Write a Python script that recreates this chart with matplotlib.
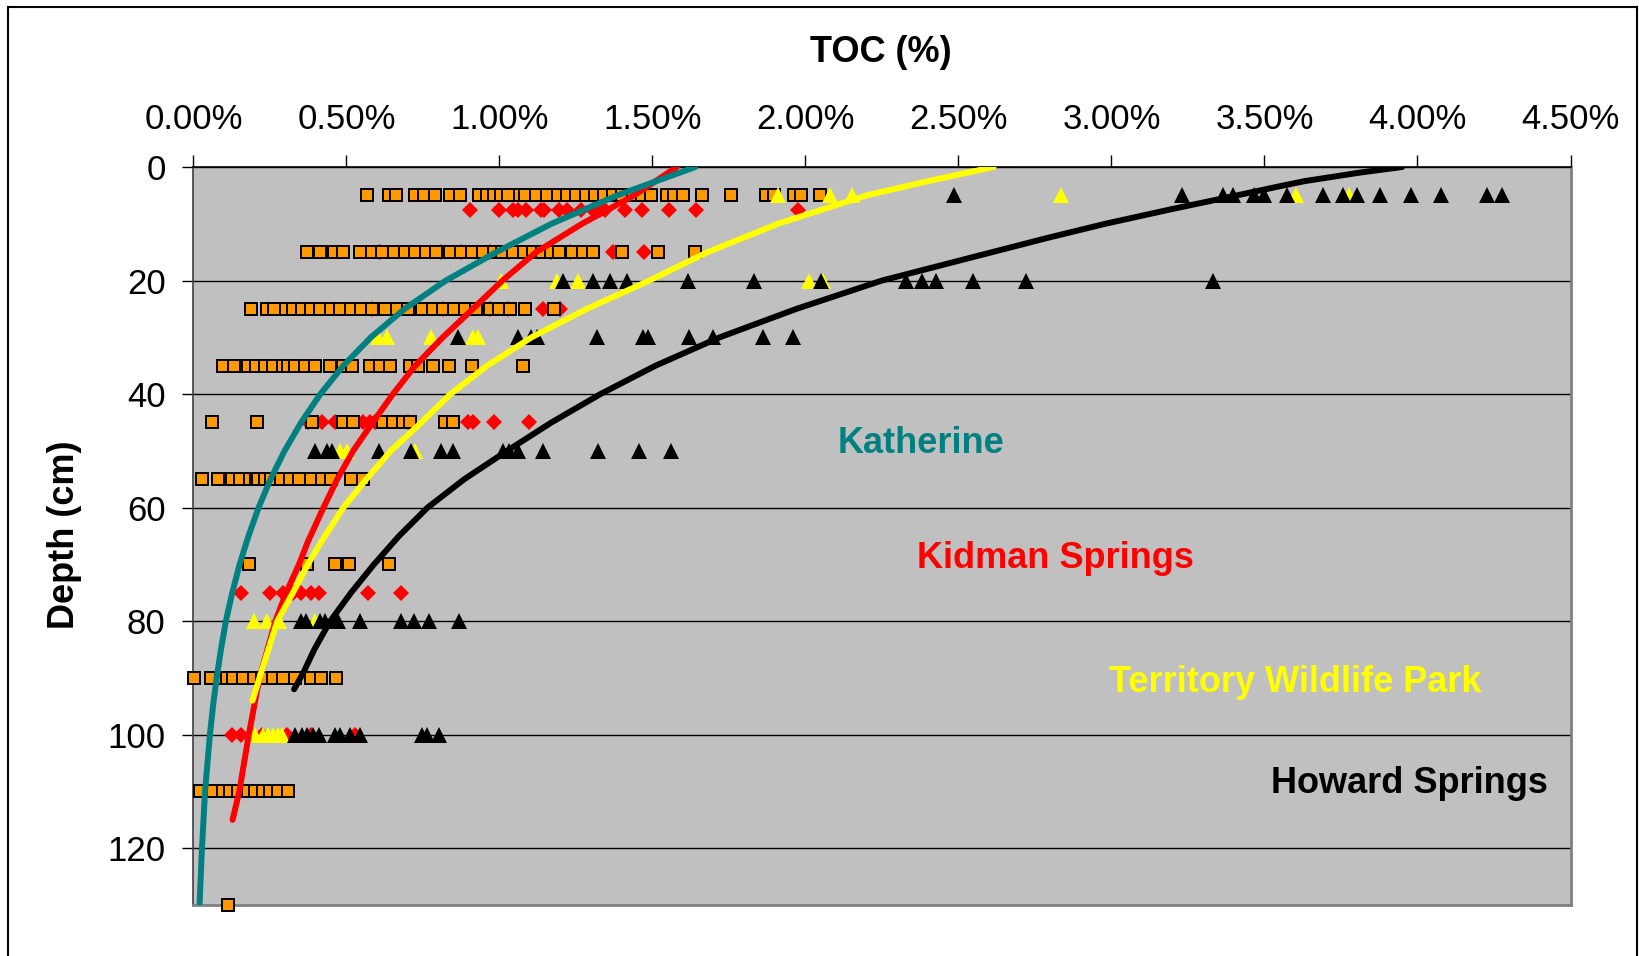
import matplotlib.pyplot as plt
from matplotlib.lines import Line2D
from matplotlib.ticker import FuncFormatter, MultipleLocator

plt.rcParams['font.family'] = ['Liberation Sans', 'DejaVu Sans']

# Katherine - orange squares, TOC (%) at each sampling depth (cm)
kath_depths = [5, 15, 25, 35, 45, 55, 70, 90, 110, 130]
kath_toc = [
    [0.568, 0.640, 0.663, 0.724, 0.753, 0.789, 0.840, 0.872, 0.934, 0.960, 0.981, 1.004, 1.027,
     1.068, 1.083, 1.121, 1.156, 1.191, 1.220, 1.249, 1.284, 1.313, 1.342, 1.372, 1.401, 1.436,
     1.465, 1.494, 1.547, 1.570, 1.599, 1.663, 1.757, 1.871, 1.898, 1.961, 1.984, 2.047],
    [0.370, 0.414, 0.461, 0.490, 0.543, 0.584, 0.616, 0.654, 0.691, 0.724, 0.759, 0.794, 0.840,
     0.875, 0.910, 0.945, 0.981, 1.010, 1.045, 1.080, 1.109, 1.138, 1.167, 1.196, 1.237, 1.272,
     1.307, 1.401, 1.517, 1.640],
    [0.187, 0.240, 0.263, 0.304, 0.327, 0.356, 0.385, 0.414, 0.449, 0.479, 0.514, 0.549, 0.584,
     0.625, 0.665, 0.700, 0.747, 0.782, 0.817, 0.852, 0.887, 0.922, 0.969, 0.998, 1.034, 1.083, 1.177],
    [0.096, 0.134, 0.179, 0.204, 0.233, 0.259, 0.292, 0.309, 0.333, 0.364, 0.397, 0.446, 0.490,
     0.517, 0.577, 0.610, 0.643, 0.708, 0.735, 0.784, 0.835, 0.912, 1.076],
    [0.062, 0.207, 0.387, 0.490, 0.521, 0.621, 0.653, 0.686, 0.708, 0.822, 0.849],
    [0.029, 0.082, 0.126, 0.152, 0.184, 0.204, 0.212, 0.233, 0.254, 0.286, 0.315, 0.344, 0.385,
     0.420, 0.449, 0.516, 0.554],
    [0.183, 0.370, 0.463, 0.508, 0.640],
    [0.002, 0.058, 0.091, 0.111, 0.128, 0.161, 0.198, 0.224, 0.259, 0.292, 0.333, 0.383, 0.418, 0.465],
    [0.022, 0.065, 0.096, 0.120, 0.147, 0.180, 0.201, 0.229, 0.250, 0.278, 0.310],
    [0.114],
]

# Kidman Springs - red diamonds
kid_depths = [7.5, 15, 25, 45, 75, 100]
kid_toc = [
    [0.905, 0.998, 1.045, 1.062, 1.088, 1.135, 1.146, 1.196, 1.220, 1.266, 1.307, 1.328, 1.345,
     1.410, 1.465, 1.555, 1.642, 1.975],
    [0.61, 0.81, 0.875, 0.97, 1.03, 1.17, 1.23, 1.372, 1.473],
    [0.584, 0.817, 0.969, 1.027, 1.144, 1.198],
    [0.374, 0.419, 0.463, 0.555, 0.577, 0.593, 0.700, 0.898, 0.915, 0.982, 1.098],
    [0.155, 0.251, 0.292, 0.327, 0.350, 0.383, 0.411, 0.570, 0.679],
    [0.125, 0.154, 0.223, 0.305, 0.384, 0.528],
]

# Territory Wildlife Park - yellow triangles
twp_depths = [5, 20, 30, 50, 80, 100]
twp_toc = [
    [1.910, 2.081, 2.151, 2.835, 3.604, 3.776],
    [1.004, 1.188, 1.258, 2.011, 2.059],
    [0.604, 0.634, 0.778, 0.915, 0.931],
    [0.479, 0.501, 0.724],
    [0.198, 0.239, 0.280, 0.397],
    [0.201, 0.229, 0.245, 0.261, 0.278, 0.288],
]

# Howard Springs - black triangles
how_depths = [5, 20, 30, 50, 80, 100]
how_toc = [
    [2.487, 3.229, 3.364, 3.398, 3.466, 3.498, 3.573, 3.692, 3.756, 3.801, 3.878, 3.980, 4.077,
     4.226, 4.276],
    [1.208, 1.307, 1.360, 1.418, 1.617, 1.832, 2.050, 2.330, 2.380, 2.427, 2.548, 2.722, 3.332],
    [0.866, 1.062, 1.102, 1.124, 1.320, 1.470, 1.487, 1.620, 1.699, 1.862, 1.958],
    [0.397, 0.435, 0.452, 0.607, 0.711, 0.808, 0.849, 1.013, 1.032, 1.062, 1.141, 1.321, 1.457, 1.561],
    [0.350, 0.368, 0.414, 0.430, 0.455, 0.473, 0.543, 0.679, 0.721, 0.770, 0.867],
    [0.332, 0.354, 0.370, 0.392, 0.412, 0.463, 0.479, 0.512, 0.545, 0.746, 0.762, 0.804],
]

# trend curves (depth cm, TOC %)
kath_fit_depth = [0, 5, 10, 15, 20, 25, 30, 35, 40, 45, 50, 55, 60, 65, 70, 75, 80, 85, 90, 95,
                  100, 105, 110, 115, 120, 125, 130]
kath_fit_toc = [1.64, 1.385, 1.17, 0.99, 0.825, 0.69, 0.58, 0.49, 0.415, 0.352, 0.298, 0.252, 0.213,
                0.180, 0.151, 0.127, 0.106, 0.090, 0.076, 0.064, 0.054, 0.046, 0.038, 0.033, 0.028,
                0.024, 0.020]

kid_fit_depth = [0, 5, 10, 15, 20, 25, 30, 35, 40, 45, 50, 55, 60, 66, 70, 75, 80, 90, 100, 110, 115]
kid_fit_toc = [1.58, 1.44, 1.27, 1.12, 1.01, 0.913, 0.815, 0.725, 0.652, 0.586, 0.522, 0.470, 0.425,
               0.374, 0.345, 0.303, 0.268, 0.216, 0.181, 0.150, 0.128]

twp_fit_depth = [0, 2.5, 5, 10, 15, 20, 25, 30, 35, 40, 45, 50, 55, 60, 66, 70, 75, 80, 90, 94]
twp_fit_toc = [2.615, 2.40, 2.20, 1.91, 1.68, 1.49, 1.285, 1.105, 0.96, 0.84, 0.745, 0.645, 0.565,
               0.490, 0.418, 0.374, 0.325, 0.274, 0.216, 0.193]

how_fit_depth = [0, 1, 2.5, 3.5, 5, 7.5, 10, 12.5, 15, 20, 25, 30, 35, 40, 45, 50, 55, 60, 65, 70,
                 75, 80, 85, 89, 92]
how_fit_toc = [3.95, 3.81, 3.63, 3.54, 3.41, 3.19, 2.98, 2.79, 2.61, 2.25, 1.97, 1.72, 1.51, 1.33,
               1.17, 1.025, 0.885, 0.765, 0.672, 0.590, 0.515, 0.447, 0.395, 0.360, 0.329]

TEAL = '#008080'
ORANGE = '#FF9900'
RED = '#FF0000'
YELLOW = '#FFFF00'

W, H = 1639, 956
fig = plt.figure(figsize=(W / 100, H / 100), dpi=100)
fig.patch.set_facecolor('white')

left, right, top, bottom = 193.4, 1570.5, 167, 905
ax = fig.add_axes([left / W, 1 - bottom / H, (right - left) / W, (bottom - top) / H])
ax.set_facecolor('#C0C0C0')

for d, vals in zip(kid_depths, kid_toc):
    ax.plot(vals, [d] * len(vals), ls='none', marker='D', ms=8.2, mfc=RED, mec=RED, mew=0, zorder=3)
for d, vals in zip(kath_depths, kath_toc):
    ax.plot(vals, [d] * len(vals), ls='none', marker='s', ms=8.6, mfc=ORANGE, mec='black', mew=1.4,
            zorder=4, clip_on=False)
for d, vals in zip(twp_depths, twp_toc):
    ax.plot(vals, [d] * len(vals), ls='none', marker='^', ms=11.5, mfc=YELLOW, mec=YELLOW, mew=0, zorder=5)
for d, vals in zip(how_depths, how_toc):
    ax.plot(vals, [d] * len(vals), ls='none', marker='^', ms=11.5, mfc='black', mec='black', mew=0, zorder=6)

ax.plot(kid_fit_toc, kid_fit_depth, color=RED, lw=4.3, zorder=7, solid_capstyle='round')
ax.plot(twp_fit_toc, twp_fit_depth, color=YELLOW, lw=4.3, zorder=8, solid_capstyle='round')
ax.plot(kath_fit_toc, kath_fit_depth, color=TEAL, lw=4.3, zorder=9, solid_capstyle='round')
ax.plot(how_fit_toc, how_fit_depth, color='black', lw=4.3, zorder=10, solid_capstyle='round')

ax.set_xlim(0, 4.5)
ax.set_ylim(130, 0)
ax.xaxis.set_major_locator(MultipleLocator(0.5))
ax.yaxis.set_major_locator(MultipleLocator(20))
ax.xaxis.set_major_formatter(FuncFormatter(lambda v, p: f'{v:.2f}%'))
ax.xaxis.tick_top()
ax.tick_params(axis='x', direction='out', length=8.5, width=1, pad=14, labelsize=25, colors='black')
ax.tick_params(axis='y', direction='out', length=8, width=1, pad=12, labelsize=25, colors='black')

ax.yaxis.grid(True, color='black', lw=1.0)
ax.set_axisbelow(True)

ax.spines['top'].set_color('black')
ax.spines['top'].set_linewidth(1.2)
ax.spines['left'].set_color('#404040')
ax.spines['left'].set_linewidth(1.2)
for s in ('right', 'bottom'):
    ax.spines[s].set_color('#808080')
    ax.spines[s].set_linewidth(2)

fig.text(881 / W, 1 - 53 / H, 'TOC (%)', ha='center', va='center', fontsize=26, fontweight='bold')
fig.text(65 / W, 1 - 535 / H, 'Depth (cm)', ha='center', va='center', rotation=90,
         fontsize=26, fontweight='bold')

# site names written inside the plot area
ax.text(2.378, 50.3, 'Katherine', color=TEAL, ha='center', va='baseline', fontsize=26, fontweight='bold')
ax.text(2.816, 70.7, 'Kidman Springs', color=RED, ha='center', va='baseline', fontsize=26, fontweight='bold')
ax.text(3.60, 92.5, 'Territory Wildlife Park', color=YELLOW, ha='center', va='baseline', fontsize=26,
        fontweight='bold')
ax.text(3.974, 110.2, 'Howard Springs', color='black', ha='center', va='baseline', fontsize=26,
        fontweight='bold')

# outer chart border (open at the bottom)
bx0, bx1, by0 = 8 / W, 1637 / W, 1 - 7 / H
for xs, ys in (([bx0, bx0], [0, by0]), ([bx0, bx1], [by0, by0]), ([bx1, bx1], [by0, 0])):
    fig.add_artist(Line2D(xs, ys, transform=fig.transFigure, color='black', lw=1.5))

fig.savefig('out.png', dpi=100, facecolor='white')
